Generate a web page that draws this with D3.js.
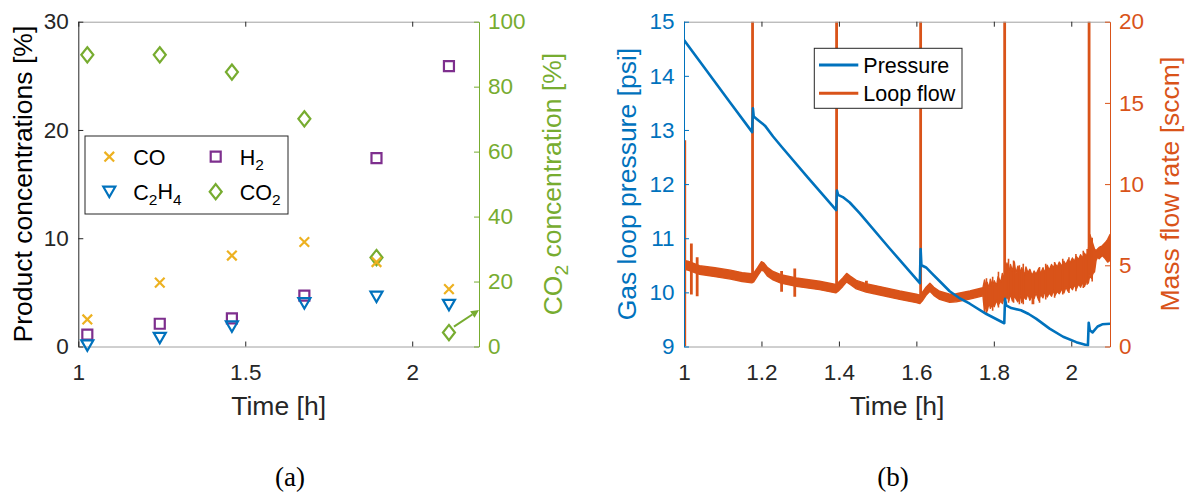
<!DOCTYPE html>
<html>
<head>
<meta charset="utf-8">
<script src="https://cdn.jsdelivr.net/npm/d3@7"></script>
<style>
  html, body { margin: 0; padding: 0; background: #fff; }
  svg { display: block; font-family: 'Liberation Sans', Arial, sans-serif; }
</style>
</head>
<body>
<svg id="chart" width="1185" height="495"></svg>
<script>
// ---- (a) gas composition, sampled every ~13 min
const sampleTime = [1.027, 1.244, 1.460, 1.677, 1.893, 2.110];
const coConc   = [2.5, 5.9, 8.4, 9.65, 7.8, 5.3];
const h2Conc   = [1.1, 2.1, 2.6, 4.7, 17.4, 25.9];
const c2h4Conc = [0.1, 0.8, 1.85, 4.0, 4.6, 3.85];
const co2Conc  = [89.8, 89.8, 84.5, 70.1, 27.4, 4.3];
const arrowFrom = [2.125, 6.1];
const arrowTo = [2.2, 11.2];

const ticksAx = [1, 1.5, 2];
const ticksAyL = [0, 10, 20, 30];
const ticksAyR = [0, 20, 40, 60, 80, 100];

// ---- (b) gas loop pressure [psi] vs time [h]
const pressure = [
  [1.000, 14.66], [1.060, 14.08], [1.120, 13.50], [1.176, 12.96], [1.178, 13.40],
  [1.180, 13.25], [1.190, 13.19], [1.209, 13.08], [1.230, 12.88], [1.252, 12.69],
  [1.320, 12.12], [1.393, 11.52], [1.395, 11.88], [1.398, 11.80], [1.410, 11.76],
  [1.428, 11.66], [1.454, 11.46], [1.530, 10.82], [1.609, 10.17], [1.611, 10.80],
  [1.613, 10.50], [1.625, 10.46], [1.640, 10.35], [1.661, 10.20], [1.686, 10.02],
  [1.710, 9.90], [1.738, 9.79], [1.781, 9.60], [1.827, 9.43], [1.829, 9.88],
  [1.832, 9.76], [1.845, 9.71], [1.870, 9.67], [1.890, 9.60], [1.910, 9.51],
  [1.944, 9.33], [1.979, 9.18], [2.013, 9.08], [2.043, 9.02], [2.045, 9.44],
  [2.048, 9.30], [2.055, 9.26], [2.068, 9.37], [2.080, 9.41], [2.100, 9.42]
];

// loop flow [sccm]: noise band [time, low, high]
const flowBand = [
  [1.000, 4.75, 5.30], [1.010, 4.70, 5.25], [1.040, 4.45, 4.98], [1.080, 4.30, 4.85],
  [1.120, 4.15, 4.70], [1.150, 4.00, 4.55], [1.175, 3.92, 4.48], [1.180, 3.98, 4.52],
  [1.190, 4.35, 4.85], [1.200, 4.70, 5.22], [1.206, 4.65, 5.15], [1.215, 4.35, 4.88],
  [1.230, 4.10, 4.62], [1.250, 3.90, 4.42], [1.290, 3.70, 4.22], [1.350, 3.50, 4.02],
  [1.392, 3.30, 3.82], [1.398, 3.40, 3.92], [1.410, 3.70, 4.22], [1.420, 3.98, 4.50],
  [1.430, 3.80, 4.32], [1.445, 3.55, 4.07], [1.470, 3.35, 3.87], [1.500, 3.20, 3.72],
  [1.557, 2.90, 3.42], [1.600, 2.70, 3.22], [1.609, 2.64, 3.16], [1.615, 2.80, 3.32],
  [1.625, 3.15, 3.65], [1.635, 3.40, 3.90], [1.645, 3.15, 3.65], [1.660, 2.90, 3.40],
  [1.686, 2.72, 3.22], [1.703, 2.75, 3.25], [1.738, 2.92, 3.42], [1.772, 3.12, 3.62],
  [1.776, 2.10, 4.10], [1.779, 2.50, 3.80], [1.783, 2.20, 3.95], [1.788, 2.70, 3.60],
  [1.791, 2.35, 4.15], [1.797, 2.60, 3.70], [1.801, 2.45, 4.05], [1.807, 2.85, 3.75],
  [1.811, 2.55, 4.30], [1.818, 2.80, 3.95], [1.822, 2.65, 4.50], [1.826, 2.95, 4.20],
  [1.830, 2.90, 4.70], [1.834, 3.05, 5.15], [1.839, 2.85, 4.55], [1.843, 3.25, 5.05],
  [1.848, 2.80, 4.65], [1.853, 3.10, 5.20], [1.857, 2.95, 4.50], [1.862, 2.75, 4.95],
  [1.868, 3.15, 4.60], [1.872, 2.70, 4.85], [1.879, 3.05, 4.40], [1.883, 2.90, 4.90],
  [1.888, 3.25, 4.55], [1.893, 2.85, 4.75], [1.899, 3.15, 4.35], [1.904, 2.95, 4.65],
  [1.909, 3.30, 4.45], [1.916, 2.85, 4.80], [1.921, 3.20, 4.50], [1.927, 3.00, 4.85],
  [1.931, 3.35, 4.55], [1.938, 3.05, 5.00], [1.943, 3.30, 4.70], [1.949, 3.10, 5.05],
  [1.954, 3.45, 4.85], [1.958, 3.15, 5.10], [1.964, 3.40, 4.90], [1.969, 3.25, 5.20],
  [1.976, 3.55, 4.95], [1.981, 3.30, 5.25], [1.986, 3.65, 5.05], [1.992, 3.40, 5.35],
  [1.997, 3.70, 5.15], [2.003, 3.50, 5.45], [2.008, 3.80, 5.25], [2.013, 3.55, 5.55],
  [2.019, 3.85, 5.35], [2.024, 3.65, 5.65], [2.029, 3.95, 5.45], [2.034, 3.70, 5.75],
  [2.039, 4.00, 5.55], [2.044, 3.90, 5.90], [2.048, 4.40, 6.90], [2.052, 4.20, 6.60],
  [2.056, 4.50, 6.30], [2.060, 4.60, 6.00], [2.064, 5.30, 5.90], [2.068, 5.50, 6.00],
  [2.072, 5.40, 6.10], [2.080, 5.60, 6.20], [2.088, 5.40, 6.40], [2.094, 5.20, 6.60],
  [2.100, 5.30, 6.90]
];
// loop flow: valve pulses and glitches [time, from, to]
const flowSpikes = [
  [1.002, 0, 12.7], [1.019, 3.2, 6.35], [1.034, 3.1, 5.5], [1.177, 4.0, 21],
  [1.252, 3.37, 4.65], [1.286, 3.07, 4.8], [1.394, 3.4, 21], [1.471, 3.4, 4.05],
  [1.611, 2.8, 21], [1.828, 3.0, 21], [1.901, 2.6, 4.5], [2.046, 4.5, 21]
];
// loop flow: fast fluctuations in the noisy stretch [time, from, to]
const flowStreaks = [
  [1.781, 1.95, 4.2], [1.797, 2.2, 4.3], [1.812, 2.4, 4.6], [1.838, 2.7, 5.4],
  [1.851, 2.7, 5.3], [1.866, 2.6, 5.0], [1.876, 2.6, 5.1], [1.918, 2.7, 4.9],
  [1.934, 2.9, 5.1], [1.957, 3.0, 5.2], [1.978, 3.2, 5.4], [1.994, 3.3, 5.5],
  [2.012, 3.4, 5.7], [2.031, 3.6, 5.9], [2.041, 3.8, 6.0], [2.054, 4.0, 6.7]
];

const ticksBx = [1, 1.2, 1.4, 1.6, 1.8, 2];
const ticksByL = [9, 10, 11, 12, 13, 14, 15];
const ticksByR = [0, 5, 10, 15, 20];

const DARK = '#262626', GREY = '#a0a0a0';
const BLUE = '#0072BD', ORANGE = '#D95319', YELLOW = '#EDB120', PURPLE = '#7E2F8E', GREEN = '#77AC30';
const TICK_FS = '22.5px', LABEL_FS = '26.5px', LEG_FS = '21.5px';

const svg = d3.select('#chart');
svg.append('rect').attr('width', 1185).attr('height', 495).attr('fill', '#fff');

const plotTop = 21.7, plotBottom = 346.5;

function styleAxis(a, color, domainColor) {
  a.select('.domain').attr('stroke', domainColor || color).attr('stroke-width', 1);
  a.selectAll('.tick line').attr('stroke', color);
  a.selectAll('.tick text').attr('fill', color).style('font-size', TICK_FS)
    .style('font-family', "'Liberation Sans', Arial, sans-serif");
}

function frame(x, yL, yR, xt, ytL, ytR, cL, cR) {
  const g = svg.append('g');
  g.append('g').attr('transform', `translate(0,${plotBottom})`)
    .call(d3.axisBottom(x).tickValues(xt).tickSizeInner(-5).tickSizeOuter(0).tickPadding(18).tickFormat(d3.format('~g')))
    .call(a => styleAxis(a, DARK, GREY));
  g.append('g').attr('transform', `translate(0,${plotTop})`)
    .call(d3.axisTop(x).tickValues(xt).tickSizeInner(-5).tickSizeOuter(0).tickFormat(''))
    .call(a => styleAxis(a, DARK, GREY));
  g.append('g').attr('transform', `translate(${x.range()[0]},0)`)
    .call(d3.axisLeft(yL).tickValues(ytL).tickSizeInner(-5).tickSizeOuter(0).tickPadding(9.5).tickFormat(d3.format('~g')))
    .call(a => styleAxis(a, cL));
  g.append('g').attr('transform', `translate(${x.range()[1]},0)`)
    .call(d3.axisRight(yR).tickValues(ytR).tickSizeInner(-5).tickSizeOuter(0).tickPadding(9).tickFormat(d3.format('~g')))
    .call(a => styleAxis(a, cR));
  return g;
}

// parts: [text, isSubscript]
function addParts(t, parts) {
  let shifted = false;
  parts.forEach(([s, sub]) => {
    const ts = t.append('tspan').text(s);
    if (sub && !shifted) { ts.attr('dy', '0.36em').style('font-size', '0.72em'); shifted = true; }
    else if (sub) { ts.style('font-size', '0.72em'); }
    else if (shifted) { ts.attr('dy', '-0.26em'); shifted = false; }
  });
}

function yLabel(xPos, parts, color) {
  const t = svg.append('text')
    .attr('transform', `translate(${xPos},${(plotTop + plotBottom) / 2}) rotate(-90)`)
    .attr('text-anchor', 'middle').attr('fill', color).style('font-size', LABEL_FS);
  addParts(t, parts);
}

// ================= panel (a) =================
const xA = d3.scaleLinear([1, 2.2], [78.3, 479]);
const yAL = d3.scaleLinear([0, 30], [plotBottom, plotTop]);
const yAR = d3.scaleLinear([0, 100], [plotBottom, plotTop]);
frame(xA, yAL, yAR, ticksAx, ticksAyL, ticksAyR, DARK, GREEN);

const shapes = {
  cross: 'M-4.8,-4.8L4.8,4.8M-4.8,4.8L4.8,-4.8',
  square: 'M-5,-5H5V5H-5Z',
  tri: 'M-6,-5H6L0,5.4Z',
  diamond: 'M0,-7.6L6,0L0,7.6L-6,0Z'
};

const seriesA = [
  { name: 'CO', values: coConc, shape: 'cross', color: YELLOW, y: yAL },
  { name: 'H2', values: h2Conc, shape: 'square', color: PURPLE, y: yAL },
  { name: 'C2H4', values: c2h4Conc, shape: 'tri', color: BLUE, y: yAL },
  { name: 'CO2', values: co2Conc, shape: 'diamond', color: GREEN, y: yAR }
];

// right axis (CO2) drawn first, then the product series
[seriesA[3], seriesA[0], seriesA[1], seriesA[2]].forEach(s => {
  svg.append('g').selectAll('path')
    .data(s.values.map((v, i) => [sampleTime[i], v]))
    .enter().append('path')
    .attr('transform', d => `translate(${xA(d[0])},${s.y(d[1])})`)
    .attr('d', shapes[s.shape])
    .attr('fill', 'none').attr('stroke', s.color).attr('stroke-width', 2.2);
});

// annotation arrow pointing at the CO2 axis
{
  const x1 = xA(arrowFrom[0]), y1 = yAR(arrowFrom[1]);
  const x2 = xA(arrowTo[0]), y2 = yAR(arrowTo[1]);
  const ang = Math.atan2(y2 - y1, x2 - x1);
  const hl = 8, hw = 4;
  const bx = x2 - hl * Math.cos(ang), by = y2 - hl * Math.sin(ang);
  svg.append('line').attr('x1', x1).attr('y1', y1).attr('x2', bx).attr('y2', by)
    .attr('stroke', GREEN).attr('stroke-width', 2);
  svg.append('path')
    .attr('d', `M${x2},${y2}L${bx - hw * Math.sin(ang)},${by + hw * Math.cos(ang)}L${bx + hw * Math.sin(ang)},${by - hw * Math.cos(ang)}Z`)
    .attr('fill', GREEN);
}

// legend (a)
{
  const lg = svg.append('g');
  lg.append('rect').attr('x', 85).attr('y', 136).attr('width', 203).attr('height', 78)
    .attr('fill', '#fff').attr('stroke', DARK).attr('stroke-width', 1);
  const items = [
    { s: seriesA[0], x: 109.3, y: 156.7, parts: [['CO', false]] },
    { s: seriesA[1], x: 215.7, y: 156.7, parts: [['H', false], ['2', true]] },
    { s: seriesA[2], x: 109.3, y: 191.7, parts: [['C', false], ['2', true], ['H', false], ['4', true]] },
    { s: seriesA[3], x: 215.7, y: 191.7, parts: [['CO', false], ['2', true]] }
  ];
  items.forEach(it => {
    lg.append('path').attr('transform', `translate(${it.x},${it.y})`).attr('d', shapes[it.s.shape])
      .attr('fill', 'none').attr('stroke', it.s.color).attr('stroke-width', 2.2);
    const t = lg.append('text').attr('x', it.x + 24).attr('y', it.y + 7.8)
      .attr('fill', '#000').style('font-size', LEG_FS);
    addParts(t, it.parts);
  });
}

yLabel(32, [['Product concentrations [%]', false]], '#000');
yLabel(561.5, [['CO', false], ['2', true], [' concentration [%]', false]], GREEN);
svg.append('text').attr('x', (78.3 + 479) / 2).attr('y', 415).attr('text-anchor', 'middle')
  .attr('fill', DARK).style('font-size', LABEL_FS).text('Time [h]');

// ================= panel (b) =================
const xB = d3.scaleLinear([1, 2.1], [684, 1110]);
const yBL = d3.scaleLinear([9, 15], [plotBottom, plotTop]);
const yBR = d3.scaleLinear([0, 20], [plotBottom, plotTop]);

svg.append('clipPath').attr('id', 'clipB').append('rect')
  .attr('x', 684).attr('y', plotTop).attr('width', 1110 - 684).attr('height', plotBottom - plotTop);
const plotB = svg.append('g').attr('clip-path', 'url(#clipB)');

plotB.append('path').datum(flowBand)
  .attr('d', d3.area().x(d => xB(d[0])).y0(d => yBR(d[1])).y1(d => yBR(d[2])))
  .attr('fill', ORANGE).attr('stroke', ORANGE).attr('stroke-width', 1.4).attr('stroke-linejoin', 'round');
plotB.append('g').selectAll('line').data(flowStreaks).enter().append('line')
  .attr('x1', d => xB(d[0])).attr('x2', d => xB(d[0]))
  .attr('y1', d => yBR(d[1])).attr('y2', d => yBR(d[2]))
  .attr('stroke', ORANGE).attr('stroke-width', 1.6);
plotB.append('g').selectAll('line').data(flowSpikes).enter().append('line')
  .attr('x1', d => xB(d[0])).attr('x2', d => xB(d[0]))
  .attr('y1', d => yBR(d[1])).attr('y2', d => yBR(d[2]))
  .attr('stroke', ORANGE).attr('stroke-width', 2.8);

plotB.append('path').datum(pressure)
  .attr('d', d3.line().x(d => xB(d[0])).y(d => yBL(d[1])))
  .attr('fill', 'none').attr('stroke', BLUE).attr('stroke-width', 2.6).attr('stroke-linejoin', 'round');

frame(xB, yBL, yBR, ticksBx, ticksByL, ticksByR, BLUE, ORANGE);

// legend (b)
{
  const lg = svg.append('g');
  lg.append('rect').attr('x', 814.3).attr('y', 48.3).attr('width', 147.7).attr('height', 60)
    .attr('fill', '#fff').attr('stroke', DARK).attr('stroke-width', 1);
  [{ name: 'Pressure', color: BLUE, y: 65 }, { name: 'Loop flow', color: ORANGE, y: 93.3 }].forEach(it => {
    lg.append('line').attr('x1', 819).attr('x2', 858.3).attr('y1', it.y).attr('y2', it.y)
      .attr('stroke', it.color).attr('stroke-width', 3);
    lg.append('text').attr('x', 863.3).attr('y', it.y + 7.7).attr('fill', '#000')
      .style('font-size', LEG_FS).text(it.name);
  });
}

yLabel(636, [['Gas loop pressure [psi]', false]], BLUE);
yLabel(1179, [['Mass flow rate [sccm]', false]], ORANGE);
svg.append('text').attr('x', (684 + 1110) / 2).attr('y', 415).attr('text-anchor', 'middle')
  .attr('fill', DARK).style('font-size', LABEL_FS).text('Time [h]');

// sub-figure captions
svg.selectAll('text.caption').data([['(a)', 290], ['(b)', 893]]).enter().append('text')
  .attr('class', 'caption').attr('x', d => d[1]).attr('y', 486).attr('text-anchor', 'middle')
  .attr('fill', '#000').style('font-family', "'Liberation Serif', 'Times New Roman', serif")
  .style('font-size', '27px').text(d => d[0]);
</script>
</body>
</html>
